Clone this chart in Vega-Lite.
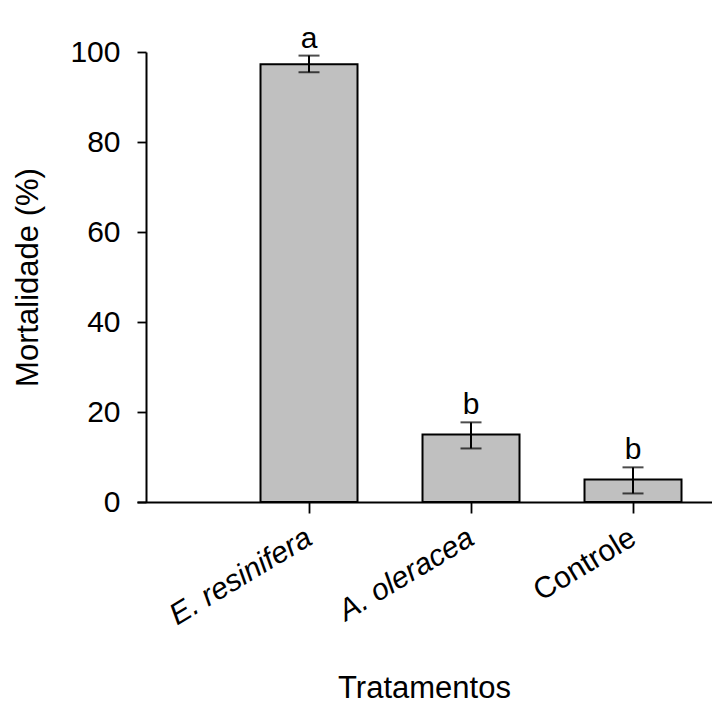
{
  "$schema": "https://vega.github.io/schema/vega-lite/v6.json",
  "width": 575,
  "height": 450,
  "autosize": {"type": "none"},
  "padding": {"left": 137, "top": 52, "right": 0, "bottom": 214},
  "background": "white",
  "config": {
    "view": {"stroke": null},
    "font": "Liberation Sans",
    "axis": {"grid": false, "domainColor": "black", "domainWidth": 2, "tickColor": "black", "tickWidth": 1.8, "labelColor": "black", "titleColor": "black", "labelFont": "Liberation Sans", "titleFont": "Liberation Sans", "titleFontWeight": "normal"}
  },
  "data": {
    "values": [
      {"tratamento": "E. resinifera", "mortalidade": 97.3, "inferior": 95.5, "superior": 99.2, "letra": "a"},
      {"tratamento": "A. oleracea", "mortalidade": 15.0, "inferior": 11.9, "superior": 17.7, "letra": "b"},
      {"tratamento": "Controle", "mortalidade": 5.0, "inferior": 1.9, "superior": 7.7, "letra": "b"}
    ]
  },
  "encoding": {
    "x": {
      "field": "tratamento",
      "type": "nominal",
      "sort": null,
      "scale": {"type": "point", "padding": 0.7747, "align": 0.6853},
      "axis": {
        "title": "Tratamentos",
        "titleFontSize": 31,
        "titleX": 287,
        "titleY": 195,
        "titleBaseline": "alphabetic",
        "titleAnchor": "middle",
        "labelFontSize": 30,
        "labelAngle": -31,
        "labelAlign": "right",
        "labelBaseline": "middle",
        "labelPadding": 22,
        "tickSize": 11,
        "labelFontStyle": {"condition": {"test": "datum.label == 'Controle'", "value": "normal"}, "value": "italic"}
      }
    }
  },
  "layer": [
    {
      "mark": {"type": "bar", "size": 97, "fill": "#c0c0c0", "stroke": "black", "strokeWidth": 2},
      "encoding": {
        "y": {
          "field": "mortalidade",
          "type": "quantitative",
          "scale": {"domain": [0, 100], "nice": false, "zero": true},
          "axis": {
            "title": "Mortalidade (%)",
            "titleFontSize": 31,
            "titleAngle": -90,
            "titleX": -109,
            "titleY": 225,
            "titleBaseline": "alphabetic",
            "titleAnchor": "middle",
            "values": [0, 20, 40, 60, 80, 100],
            "labelFontSize": 30,
            "tickSize": 9,
            "labelPadding": 17,
            "offset": -9
          }
        }
      }
    },
    {
      "mark": {"type": "rule", "color": "black", "strokeWidth": 2},
      "encoding": {
        "y": {"field": "inferior", "type": "quantitative"},
        "y2": {"field": "superior"}
      }
    },
    {
      "mark": {"type": "tick", "color": "black", "size": 21, "thickness": 2},
      "encoding": {"y": {"field": "inferior", "type": "quantitative"}}
    },
    {
      "mark": {"type": "tick", "color": "black", "size": 21, "thickness": 2},
      "encoding": {"y": {"field": "superior", "type": "quantitative"}}
    },
    {
      "mark": {"type": "text", "fontSize": 30, "baseline": "alphabetic", "align": "center", "dy": -8, "color": "black"},
      "encoding": {
        "y": {"field": "superior", "type": "quantitative"},
        "text": {"field": "letra"}
      }
    }
  ]
}
